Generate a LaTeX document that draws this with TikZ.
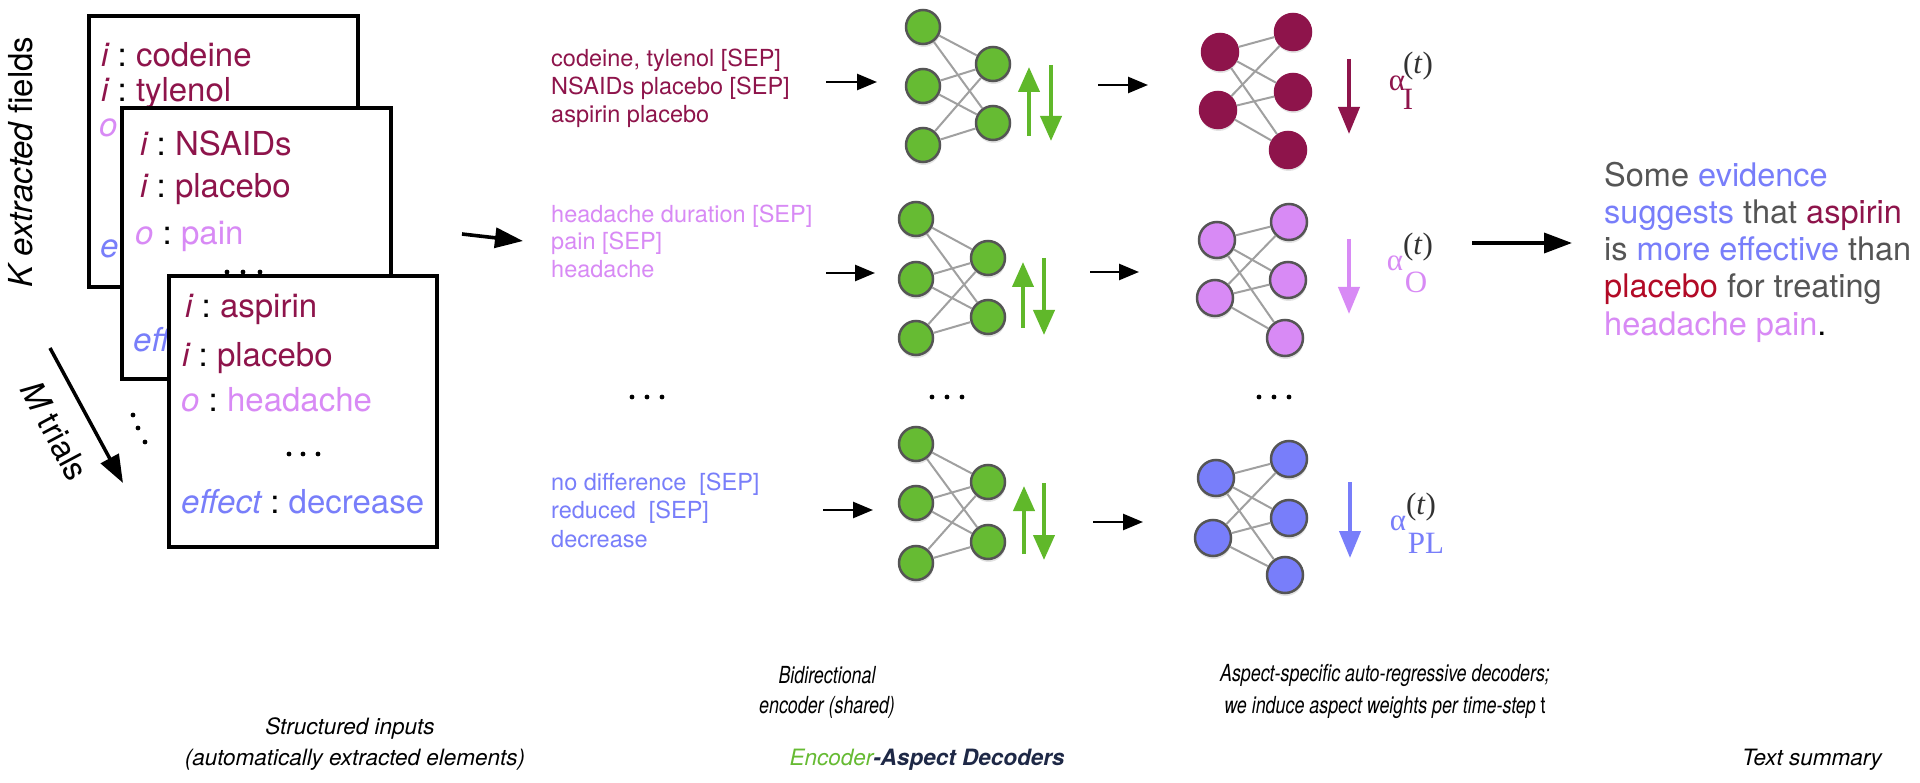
\documentclass[tikz,border=0pt]{standalone}
\usepackage{fontspec}
\setmainfont{TeX Gyre Heros}
\newfontfamily\grk{Liberation Serif}
\usetikzlibrary{arrows.meta,shadows}
\definecolor{cMaroon}{RGB}{142,20,75}
\definecolor{cViolet}{RGB}{216,138,245}
\definecolor{cBlue}{RGB}{120,126,250}
\definecolor{cGreen}{RGB}{102,187,51}
\definecolor{cGreenA}{RGB}{96,184,42}
\definecolor{cBorder}{RGB}{85,85,85}
\definecolor{cWire}{RGB}{160,160,160}
\definecolor{cGray}{RGB}{85,85,85}
\definecolor{cRed}{RGB}{178,10,38}
\definecolor{cNavy}{RGB}{30,40,70}
\definecolor{cT}{RGB}{50,50,50}
\newcommand{\fcard}{\fontsize{33}{40}\selectfont}
\newcommand{\fmid}{\fontsize{23.5}{28}\selectfont}
\newcommand{\fsum}{\fontsize{32.5}{37}\selectfont}
\newcommand{\flab}{\fontsize{22.5}{27}\selectfont\itshape}
\newcommand{\flabc}[1]{\scalebox{0.76}[1]{\fontsize{23.5}{28}\selectfont\itshape #1}}
\newcommand{\falpha}{\grk\fontsize{31}{31}\selectfont}
\newcommand{\ient}[1]{{\color{cMaroon}\itshape i}\ :\ {\color{cMaroon}#1}}
\newcommand{\oent}[1]{{\color{cViolet}\itshape o}\ :\ {\color{cViolet}#1}}
\tikzset{
  enc/.style={circle, minimum size=34pt, inner sep=0pt, fill=cGreen, draw=cBorder, line width=2.5pt,
    drop shadow={shadow xshift=0.5pt, shadow yshift=-3pt, opacity=0.22}},
  decn/.style={circle, minimum size=36pt, inner sep=0pt, draw=cBorder, line width=2.5pt,
    drop shadow={shadow xshift=0.5pt, shadow yshift=-3pt, opacity=0.22}},
  wire/.style={draw=cWire, line width=2pt},
  flow/.style={-{Triangle[length=20pt,width=16pt]}, line width=2.6pt, draw=black},
  bigflow/.style={-{Triangle[length=28pt,width=20pt]}, line width=3.6pt, draw=black},
  bidir/.style={-{Triangle[length=25pt,width=21pt]}, line width=4pt, draw=cGreenA},
  alarrow/.style={-{Triangle[length=27pt,width=21pt]}, line width=4pt},
  card/.style={draw=black, fill=white, line width=3.5pt},
  txt/.style={inner sep=0pt, anchor=base west},
  lab/.style={inner sep=0pt, anchor=center},
}
\begin{document}
\begin{tikzpicture}[x=1pt,y=-1pt]
\useasboundingbox (0,0) rectangle (1920,783);
\fill[white] (0,0) rectangle (1920,783);

% ---------- cards ----------
\path[card] (89,16) rectangle (358,287);
\node[txt] (c1a) at (101,67) {\fcard\ient{codeine}};
\node[txt] (c1b) at (101,102) {\fcard\ient{tylenol}};
\node[txt] (c1c) at (99,137) {\fcard\color{cViolet}\itshape o};
\node[txt] (c1d) at (100,258) {\fcard\color{cBlue}\itshape e};

\path[card] (122,108) rectangle (391,379);
\node[txt] (c2a) at (140,156) {\fcard\ient{NSAIDs}};
\node[txt] (c2b) at (140,198) {\fcard\ient{placebo}};
\node[txt] (c2c) at (135,245) {\fcard\oent{pain}};
\foreach \x in {227,243,260} \fill (\x,272) circle (2.4);
\node[txt] (c2d) at (133,352) {\fcard\color{cBlue}\itshape effect};

\path[card] (169,276) rectangle (437,547);
\node[txt] (c3a) at (185,318) {\fcard\ient{aspirin}};
\node[txt] (c3b) at (182,367) {\fcard\ient{placebo}};
\node[txt] (c3c) at (181,412) {\fcard\oent{headache}};
\foreach \x in {289,303,318} \fill (\x,454) circle (2.4);
\node[txt] (c3d) at (181,513) {\fcard{\color{cBlue}\itshape effect}\ :\ {\color{cBlue}decrease}};

% side labels
\node[lab, rotate=90] (klab) at (21,162) {\fcard\itshape K extracted \upshape fields};
\coordinate (m0) at (50,348);
\coordinate (m1) at (123,483);
\draw[-{Triangle[length=28pt,width=20pt]}, line width=3.5pt] (m0) -- (m1);
\node[lab, rotate=-62] (mlab) at (55,431) {\fcard{\itshape M} trials};
\fill (133,415) circle (2.4) (138,428) circle (2.4) (145,442) circle (2.4);

% arrow cards -> middle
\coordinate (ca0) at (462,234);
\coordinate (ca1) at (523,241);
\draw[bigflow] (ca0) -- (ca1);

% ---------- middle texts ----------
\node[txt] (t1a) at (551,67) {\fmid\color{cMaroon}codeine, tylenol [SEP]};
\node[txt] (t1b) at (551,95) {\fmid\color{cMaroon}NSAIDs placebo [SEP]};
\node[txt] (t1c) at (551,123) {\fmid\color{cMaroon}aspirin placebo};
\node[txt] (t2a) at (551,223) {\fmid\color{cViolet}headache duration [SEP]};
\node[txt] (t2b) at (551,250) {\fmid\color{cViolet}pain [SEP]};
\node[txt] (t2c) at (551,278) {\fmid\color{cViolet}headache};
\node[txt] (t3a) at (551,490) {\fmid\color{cBlue}no difference\ \ [SEP]};
\node[txt] (t3b) at (551,518) {\fmid\color{cBlue}reduced\ \ [SEP]};
\node[txt] (t3c) at (551,547) {\fmid\color{cBlue}decrease};
\foreach \x in {632,647,662} \fill (\x,397) circle (2.4);
\foreach \x in {932,947,962} \fill (\x,397) circle (2.4);
\foreach \x in {1259,1274,1289} \fill (\x,397) circle (2.4);

% ---------- encoders ----------
\foreach \r/\lx/\ya/\yb/\yc/\rx/\ra/\rb in {1/923/27/86/145/993/64/123, 2/916/219/279/338/988/258/317, 3/916/444/503/563/988/482/542}{
  \node[enc] (e\r l1) at (\lx,\ya) {};
  \node[enc] (e\r l2) at (\lx,\yb) {};
  \node[enc] (e\r l3) at (\lx,\yc) {};
  \node[enc] (e\r r1) at (\rx,\ra) {};
  \node[enc] (e\r r2) at (\rx,\rb) {};
  \foreach \i in {1,2,3} \foreach \j in {1,2} \draw[wire] (e\r l\i) -- (e\r r\j);
}

% ---------- decoders ----------
\foreach \r/\col/\bd/\la/\lb/\ma/\mb/\mc/\ya/\yb/\yc/\yd/\ye in {
  1/cMaroon/cMaroon/1220/1218/1293/1293/1288/52/110/32/92/150,
  2/cViolet/cBorder/1217/1215/1289/1288/1285/240/298/222/280/338,
  3/cBlue/cBorder/1216/1213/1289/1289/1285/478/538/459/518/575}{
  \node[decn, fill=\col, draw=\bd] (d\r l1) at (\la,\ya) {};
  \node[decn, fill=\col, draw=\bd] (d\r l2) at (\lb,\yb) {};
  \node[decn, fill=\col, draw=\bd] (d\r r1) at (\ma,\yc) {};
  \node[decn, fill=\col, draw=\bd] (d\r r2) at (\mb,\yd) {};
  \node[decn, fill=\col, draw=\bd] (d\r r3) at (\mc,\ye) {};
  \foreach \i in {1,2} \foreach \j in {1,2,3} \draw[wire] (d\r l\i) -- (d\r r\j);
}

% ---------- row arrows ----------
\coordinate (r1a) at (826,82);  \coordinate (r1b) at (877,82);
\coordinate (u1a) at (1029,136); \coordinate (u1b) at (1029,67);
\coordinate (v1a) at (1051,65); \coordinate (v1b) at (1051,141);
\coordinate (s1a) at (1098,85); \coordinate (s1b) at (1148,85);
\coordinate (w1a) at (1349,59); \coordinate (w1b) at (1349,134);
\coordinate (r2a) at (826,273);  \coordinate (r2b) at (875,273);
\coordinate (u2a) at (1023,328); \coordinate (u2b) at (1023,262);
\coordinate (v2a) at (1044,258); \coordinate (v2b) at (1044,335);
\coordinate (s2a) at (1090,272); \coordinate (s2b) at (1139,272);
\coordinate (w2a) at (1349,239); \coordinate (w2b) at (1349,314);
\coordinate (r3a) at (823,510);  \coordinate (r3b) at (873,510);
\coordinate (u3a) at (1024,554); \coordinate (u3b) at (1024,486);
\coordinate (v3a) at (1044,483); \coordinate (v3b) at (1044,560);
\coordinate (s3a) at (1093,522); \coordinate (s3b) at (1143,522);
\coordinate (w3a) at (1350,482); \coordinate (w3b) at (1350,558);
\foreach \r in {1,2,3}{
  \draw[flow] (r\r a) -- (r\r b);
  \draw[bidir] (u\r a) -- (u\r b);
  \draw[bidir] (v\r a) -- (v\r b);
  \draw[flow] (s\r a) -- (s\r b);
}
\draw[alarrow, draw=cMaroon] (w1a) -- (w1b);
\draw[alarrow, draw=cViolet] (w2a) -- (w2b);
\draw[alarrow, draw=cBlue] (w3a) -- (w3b);

% alpha labels
\node[lab] (al1) at (1397,83) {\falpha\color{cMaroon}α};
\node[lab] (at1) at (1418,66) {\falpha\color{cT}(\textit{t})};
\node[lab] (ai1) at (1408,99) {\falpha\color{cMaroon}I};
\node[lab] (al2) at (1395,263) {\falpha\color{cViolet}α};
\node[lab] (at2) at (1418,247) {\falpha\color{cT}(\textit{t})};
\node[lab] (ai2) at (1416,282) {\falpha\color{cViolet}O};
\node[lab] (al3) at (1398,523) {\falpha\color{cBlue}α};
\node[lab] (at3) at (1421,507) {\falpha\color{cT}(\textit{t})};
\node[lab] (ai3) at (1426,543) {\falpha\color{cBlue}PL};

% ---------- summary ----------
\coordinate (b0) at (1472,243);
\coordinate (b1) at (1572,243);
\draw[bigflow] (b0) -- (b1);
\node[txt] (s1) at (1604,187) {\fsum\color{cGray}Some {\color{cBlue}evidence}};
\node[txt] (s2) at (1604,224) {\fsum\color{cGray}{\color{cBlue}suggests} that {\color{cMaroon}aspirin}};
\node[txt] (s3) at (1604,261) {\fsum\color{cGray}is {\color{cBlue}more effective} than};
\node[txt] (s4) at (1604,298) {\fsum\color{cGray}{\color{cRed}placebo} for treating};
\node[txt] (s5) at (1604,336) {\fsum{\color{cViolet}headache pain}{\color{black}.}};

% ---------- bottom labels ----------
\node[lab] (bl1) at (827,675) {\flabc{Bidirectional}};
\node[lab] (bl2) at (827,707) {\flabc{encoder (shared)}};
\node[lab] (bl3) at (1385,675) {\flabc{Aspect-specific auto-regressive decoders;}};
\node[lab] (bl4) at (1385,707) {\flabc{we induce aspect weights per time-step \upshape t}};
\node[lab] (bl5) at (350,728) {\flab Structured inputs};
\node[lab] (bl6) at (355,760) {\flab (automatically extracted elements)};
\node[lab] (bl7) at (927,760) {\flab{\color{cGreen}Encoder}{\color{cNavy}\bfseries -Aspect Decoders}};
\node[lab] (bl8) at (1812,760) {\flab Text summary};
\end{tikzpicture}
\end{document}
